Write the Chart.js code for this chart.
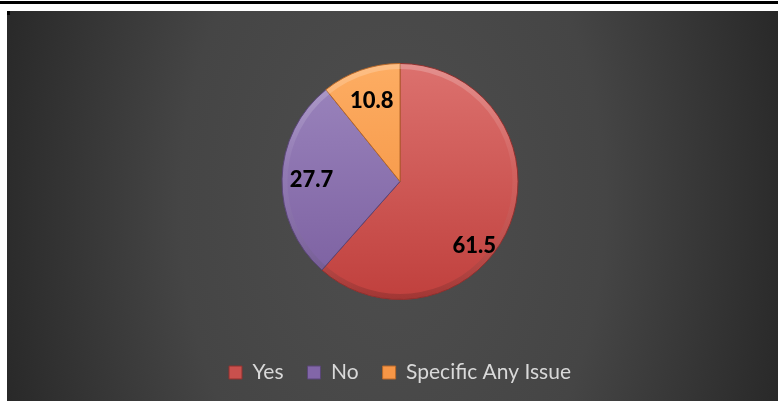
<!DOCTYPE html>
<html>
<head>
<meta charset="utf-8">
<script src="https://cdn.jsdelivr.net/npm/chart.js@4.4.0/dist/chart.umd.min.js"></script>
<style>
  html, body { margin: 0; padding: 0; background: #fff; width: 778px; height: 402px; overflow: hidden; }
  #rule { position: absolute; left: 0; top: 1px; width: 778px; height: 3px; background: #000; }
  #wrap { position: absolute; left: 7px; top: 11px; width: 771px; height: 390px; }
  #corner { position: absolute; left: 7px; top: 11px; width: 3px; height: 4px; background: #000; }
</style>
</head>
<body>
<div id="rule"></div>
<div id="wrap"><canvas id="Cnvs" width="771" height="390"></canvas></div>
<div id="corner"></div>
<script>
var labels = ['Yes', 'No', 'Specific Any Issue'];
var values = [61.5, 27.7, 10.8];

// slice shading: lighter at the top of the pie, darker at the bottom
var colorsTop = ['#dc716e', '#9c86be', '#fdad63'];
var colorsBottom = ['#c0403d', '#7a5e9f', '#f28c38'];
var colorsEdge = ['#8f302e', '#5b4679', '#b9692a'];
var colorsLegend = ['#c9504d', '#8266a8', '#f79646'];

var pieRadius = 118;
// label placement: fraction of radius and angle nudge (radians) per slice
var labelRadius = [0.83, 0.75, 0.72];
var labelShift = [0.35, 0, 0];

function sliceFill(ctx) {
  var chart = ctx.chart;
  var area = chart.chartArea;
  if (!area) return colorsBottom[ctx.dataIndex];
  var cy = (area.top + area.bottom) / 2;
  var g = chart.ctx.createLinearGradient(0, cy - pieRadius, 0, cy + pieRadius);
  g.addColorStop(0, colorsTop[ctx.dataIndex]);
  g.addColorStop(1, colorsBottom[ctx.dataIndex]);
  return g;
}

var backdrop = {
  id: 'backdrop',
  beforeDraw: function(chart) {
    var ctx = chart.ctx, w = chart.width, h = chart.height;
    ctx.save();
    ctx.translate(w / 2, h / 2);
    ctx.scale(1, 1.6);
    var g = ctx.createRadialGradient(0, 0, 0, 0, 0, w * 0.55);
    g.addColorStop(0, '#4e4e4e');
    g.addColorStop(0.5, '#454545');
    g.addColorStop(1, '#262626');
    ctx.fillStyle = g;
    ctx.fillRect(-w, -h, w * 2, h * 2);
    ctx.restore();
  }
};

// soft bevel: light rim at the top of the pie, shade at the bottom
var bevel = {
  id: 'bevel',
  afterDatasetsDraw: function(chart) {
    var arc = chart.getDatasetMeta(0).data[0];
    if (!arc) return;
    var p = arc.getProps(['x', 'y', 'outerRadius'], true);
    var ctx = chart.ctx;
    ctx.save();
    var g = ctx.createLinearGradient(0, p.y - p.outerRadius, 0, p.y + p.outerRadius);
    g.addColorStop(0, 'rgba(255,255,255,0.22)');
    g.addColorStop(0.45, 'rgba(255,255,255,0.04)');
    g.addColorStop(1, 'rgba(0,0,0,0.16)');
    ctx.strokeStyle = g;
    ctx.lineWidth = 5;
    ctx.beginPath();
    ctx.arc(p.x, p.y, p.outerRadius - 3, 0, Math.PI * 2);
    ctx.stroke();
    ctx.restore();
  }
};

var valueLabels = {
  id: 'valueLabels',
  afterDatasetsDraw: function(chart) {
    var ctx = chart.ctx;
    var meta = chart.getDatasetMeta(0);
    ctx.save();
    ctx.font = '900 22px Lato';
    ctx.fillStyle = '#000';
    ctx.textAlign = 'center';
    ctx.textBaseline = 'middle';
    meta.data.forEach(function(arc, i) {
      var p = arc.getProps(['x', 'y', 'startAngle', 'endAngle', 'outerRadius'], true);
      var mid = (p.startAngle + p.endAngle) / 2 + labelShift[i];
      var r = p.outerRadius * labelRadius[i];
      ctx.fillText(values[i].toFixed(1), p.x + Math.cos(mid) * r, p.y + Math.sin(mid) * r);
    });
    ctx.restore();
  }
};

var pieChart = new Chart(document.getElementById('Cnvs'), {
  type: 'pie',
  data: {
    labels: labels,
    datasets: [{
      data: values,
      backgroundColor: sliceFill,
      borderColor: colorsEdge,
      borderWidth: 1,
      radius: pieRadius
    }]
  },
  options: {
    responsive: false,
    animation: false,
    layout: { padding: { left: 15, top: 14, bottom: 8 } },
    plugins: {
      tooltip: { enabled: false },
      legend: {
        position: 'bottom',
        labels: {
          color: '#d9d9d9',
          font: { family: 'Lato', size: 21 },
          boxWidth: 13,
          boxHeight: 13,
          padding: 24,
          generateLabels: function(chart) {
            return labels.map(function(t, i) {
              return { text: t, fillStyle: colorsLegend[i], strokeStyle: colorsEdge[i], lineWidth: 1, index: i, fontColor: '#d9d9d9' };
            });
          }
        }
      }
    }
  },
  plugins: [backdrop, bevel, valueLabels]
});
</script>
</body>
</html>
